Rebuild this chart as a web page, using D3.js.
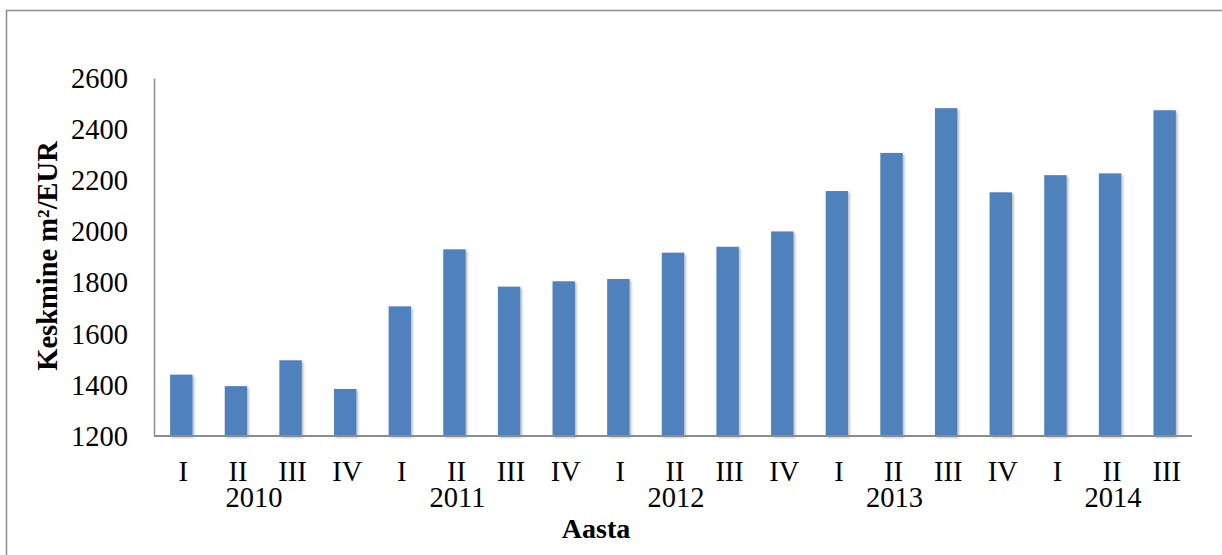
<!DOCTYPE html>
<html>
<head>
<meta charset="utf-8">
<script src="https://cdn.jsdelivr.net/npm/d3@7"></script>
<style>
  html, body { margin: 0; padding: 0; background: #fff; }
  svg { display: block; }
  text { font-family: "Liberation Serif", "Times New Roman", serif; fill: #000; }
</style>
</head>
<body>
<svg id="chart" width="1222" height="555"></svg>
<script>
// Average price per m² (EUR), by quarter
const quarters = ["I","II","III","IV","I","II","III","IV","I","II","III","IV","I","II","III","IV","I","II","III"];
const years    = ["2010","2011","2012","2013","2014"];
const values   = [1440, 1395, 1496, 1384, 1707, 1930, 1784, 1805, 1814, 1917, 1940, 2000, 2158, 2307, 2482, 2153, 2220, 2227, 2474];
const yTicks   = [1200, 1400, 1600, 1800, 2000, 2200, 2400, 2600];

const svg = d3.select("#chart");
const W = 1222, H = 555;
const plot = { left: 154, right: 1192, top: 78, bottom: 436 };

// outer frame
svg.append("rect")
  .attr("x", 6.5).attr("y", 10.5)
  .attr("width", W + 20).attr("height", H + 20)
  .attr("fill", "none").attr("stroke", "#8c8c8c").attr("stroke-width", 1.5);

// soft shadow under the bars
const defs = svg.append("defs");
const f = defs.append("filter").attr("id", "barShadow")
  .attr("x", "-20%").attr("y", "-5%").attr("width", "160%").attr("height", "115%");
f.append("feDropShadow")
  .attr("dx", 1.6).attr("dy", 1.6).attr("stdDeviation", 1.1)
  .attr("flood-color", "#000").attr("flood-opacity", 0.28);

const x = d3.scaleBand()
  .domain(d3.range(values.length))
  .range([plot.left, plot.right])
  .paddingInner(0.59)
  .paddingOuter(0.295);

const y = d3.scaleLinear()
  .domain([1200, 2600])
  .range([plot.bottom, plot.top]);

// bars
svg.append("g").attr("filter", "url(#barShadow)")
  .selectAll("rect")
  .data(values)
  .join("rect")
  .attr("x", (d, i) => x(i))
  .attr("y", d => y(d))
  .attr("width", x.bandwidth())
  .attr("height", d => y(1200) - y(d))
  .attr("fill", "#4f81bd");

// y axis
const yAxis = d3.axisLeft(y).tickValues(yTicks).tickSize(0).tickPadding(26).tickFormat(d3.format("d"));
const gy = svg.append("g").attr("transform", `translate(${plot.left},0)`).call(yAxis);
gy.select(".domain").attr("stroke", "#8c8c8c").attr("stroke-width", 1.5);
gy.selectAll("text")
  .attr("font-family", "Liberation Serif, Times New Roman, serif")
  .attr("font-size", 28.5).attr("fill", "#000").attr("dy", "0.33em");

// x axis baseline
svg.append("line")
  .attr("x1", plot.left).attr("x2", plot.right)
  .attr("y1", y(1200)).attr("y2", y(1200))
  .attr("stroke", "#8c8c8c").attr("stroke-width", 2);

// quarter labels
svg.append("g").selectAll("text")
  .data(quarters)
  .join("text")
  .attr("x", (d, i) => x(i) + x.bandwidth() / 2 + 2)
  .attr("y", 481)
  .attr("text-anchor", "middle")
  .attr("font-size", 28.5)
  .text(d => d);

// year labels, placed under each year's second quarter
svg.append("g").selectAll("text")
  .data(years)
  .join("text")
  .attr("x", (d, i) => x(i * 4 + 1) + x.bandwidth() / 2 + (i === 0 ? 18 : 3))
  .attr("y", 507)
  .attr("text-anchor", "middle")
  .attr("font-size", 28.5)
  .text(d => d);

// axis titles
svg.append("text")
  .attr("x", 596).attr("y", 538)
  .attr("text-anchor", "middle")
  .attr("font-size", 28).attr("font-weight", "bold")
  .text("Aasta");

svg.append("text")
  .attr("transform", "translate(57,256) rotate(-90)")
  .attr("text-anchor", "middle")
  .attr("font-size", 28.5).attr("font-weight", "bold")
  .text("Keskmine m²/EUR");
</script>
</body>
</html>
